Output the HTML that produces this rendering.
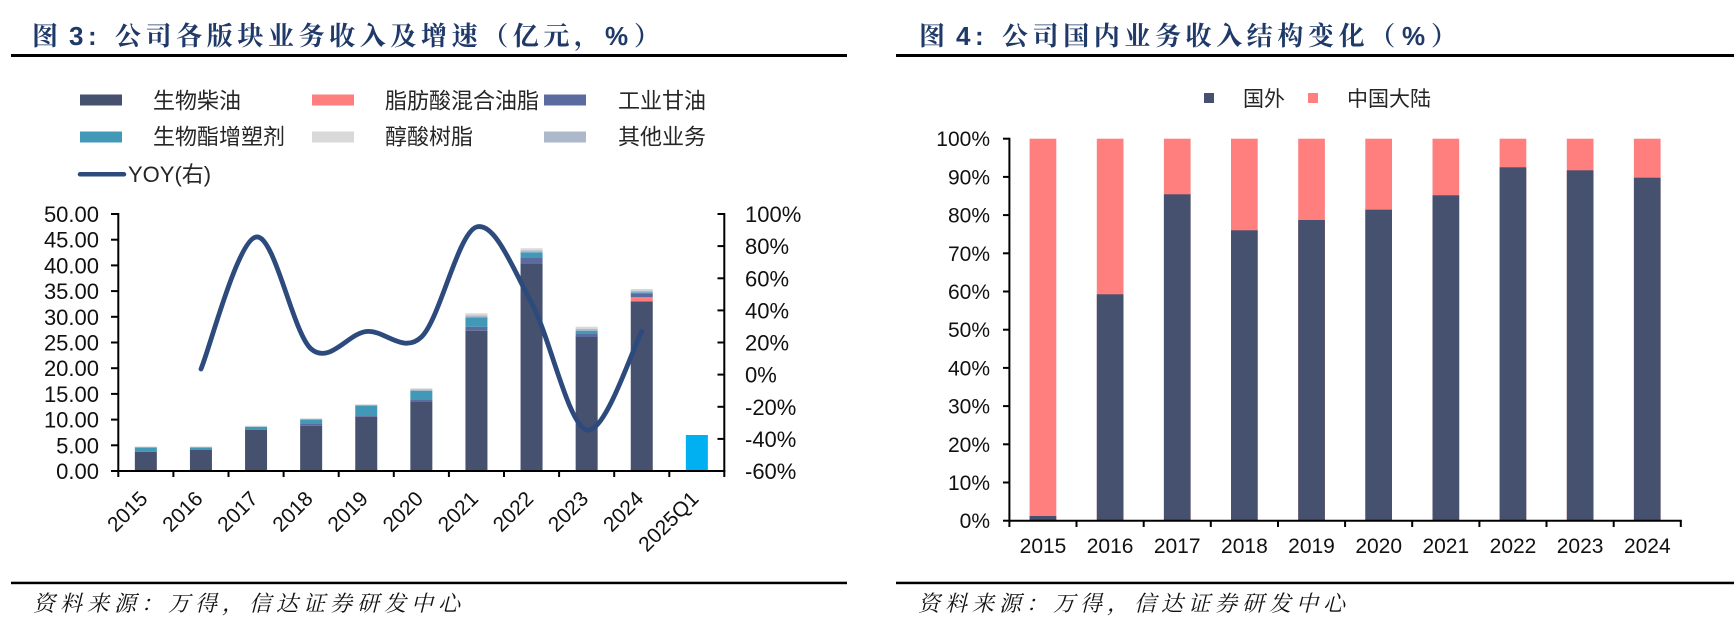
<!DOCTYPE html>
<html><head><meta charset="utf-8"><style>
html,body{margin:0;padding:0;background:#fff;}
svg{display:block;}
.t{font-family:"Noto Serif CJK SC","Liberation Serif",serif;font-weight:700;fill:#1F3A68;font-size:26px;}
.tp{font-family:"Liberation Sans",sans-serif;font-weight:700;fill:#1F3A68;font-size:26px;}
.lg{font-family:"Liberation Sans","Noto Sans CJK SC",sans-serif;font-size:22px;fill:#262626;}
.ax{font-family:"Liberation Sans","Noto Sans CJK SC",sans-serif;font-size:22px;fill:#111;}
.ax2{font-family:"Liberation Sans","Noto Sans CJK SC",sans-serif;font-size:21px;fill:#111;}
.ft{font-family:"Noto Serif CJK SC","Liberation Serif",serif;font-style:italic;font-size:22px;fill:#111;letter-spacing:5px;}
</style></head><body>
<svg width="1734" height="626" viewBox="0 0 1734 626" xmlns="http://www.w3.org/2000/svg">
<rect width="1734" height="626" fill="#fff"/>

<!-- ===== LEFT TITLE ===== -->
<text class="t" x="32" y="45">图</text>
<text class="tp" x="69" y="45">3</text>
<text class="tp" x="88" y="45">:</text>
<text class="t" x="115" y="45" style="letter-spacing:4.6px">公司各版块业务收入及增速（亿元，</text>
<text class="tp" x="605" y="45">%</text>
<text class="t" x="634" y="45">）</text>
<rect x="11" y="54" width="836" height="3" fill="#000"/>

<!-- ===== RIGHT TITLE ===== -->
<text class="t" x="919" y="45">图</text>
<text class="tp" x="956" y="45">4</text>
<text class="tp" x="975" y="45">:</text>
<text class="t" x="1002" y="45" style="letter-spacing:4.6px">公司国内业务收入结构变化（</text>
<text class="tp" x="1402" y="45">%</text>
<text class="t" x="1431" y="45">）</text>
<rect x="896" y="54" width="838" height="3" fill="#000"/>

<!-- ===== LEFT LEGEND ===== -->
<rect x="80" y="94.5" width="42" height="11" fill="#46516F"/>
<text class="lg" x="153" y="108.5">生物柴油</text>
<rect x="312" y="94.5" width="42" height="11" fill="#FF7F7F"/>
<text class="lg" x="385" y="108.5">脂肪酸混合油脂</text>
<rect x="544" y="94.5" width="42" height="11" fill="#5B6BA0"/>
<text class="lg" x="618" y="108.5">工业甘油</text>
<rect x="80" y="131.5" width="42" height="11" fill="#4299B7"/>
<text class="lg" x="153" y="144.5">生物酯增塑剂</text>
<rect x="312" y="131.5" width="42" height="11" fill="#D9D9D9"/>
<text class="lg" x="385" y="144.5">醇酸树脂</text>
<rect x="544" y="131.5" width="42" height="11" fill="#ADB9CA"/>
<text class="lg" x="618" y="144.5">其他业务</text>
<line x1="80" y1="174.3" x2="124" y2="174.3" stroke="#2C4A7C" stroke-width="4.5" stroke-linecap="round"/>
<text class="lg" x="128" y="182">YOY(右)</text>

<!-- ===== LEFT BARS ===== -->
<g>
<rect x="134.85" y="451.7" width="22" height="19.3" fill="#46516F"/>
<rect x="134.85" y="447.3" width="22" height="4.4" fill="#4299B7"/>
<rect x="134.85" y="446.5" width="22" height="0.8" fill="#D9D9D9"/>
<rect x="189.95" y="450" width="22" height="21" fill="#46516F"/>
<rect x="189.95" y="447.3" width="22" height="2.7" fill="#4299B7"/>
<rect x="189.95" y="446.5" width="22" height="0.8" fill="#D9D9D9"/>
<rect x="245.05" y="430" width="22" height="41" fill="#46516F"/>
<rect x="245.05" y="429.3" width="22" height="0.7" fill="#5B6BA0"/>
<rect x="245.05" y="426.7" width="22" height="2.6" fill="#4299B7"/>
<rect x="245.05" y="425.7" width="22" height="1" fill="#D9D9D9"/>
<rect x="300.15" y="425.7" width="22" height="45.3" fill="#46516F"/>
<rect x="300.15" y="424" width="22" height="1.7" fill="#5B6BA0"/>
<rect x="300.15" y="419.3" width="22" height="4.7" fill="#4299B7"/>
<rect x="300.15" y="418.3" width="22" height="1" fill="#D9D9D9"/>
<rect x="355.25" y="416.7" width="22" height="54.3" fill="#46516F"/>
<rect x="355.25" y="416" width="22" height="0.7" fill="#5B6BA0"/>
<rect x="355.25" y="405.3" width="22" height="10.7" fill="#4299B7"/>
<rect x="355.25" y="404.3" width="22" height="1" fill="#D9D9D9"/>
<rect x="410.35" y="402" width="22" height="69" fill="#46516F"/>
<rect x="410.35" y="400" width="22" height="2" fill="#5B6BA0"/>
<rect x="410.35" y="390.7" width="22" height="9.3" fill="#4299B7"/>
<rect x="410.35" y="389.5" width="22" height="1.2" fill="#ADB9CA"/>
<rect x="410.35" y="388.3" width="22" height="1.2" fill="#D9D9D9"/>
<rect x="465.45" y="330.7" width="22" height="140.3" fill="#46516F"/>
<rect x="465.45" y="326.7" width="22" height="4" fill="#5B6BA0"/>
<rect x="465.45" y="317.3" width="22" height="9.4" fill="#4299B7"/>
<rect x="465.45" y="315.3" width="22" height="2" fill="#ADB9CA"/>
<rect x="465.45" y="313.3" width="22" height="2" fill="#D9D9D9"/>
<rect x="520.55" y="264" width="22" height="207" fill="#46516F"/>
<rect x="520.55" y="258" width="22" height="6" fill="#5B6BA0"/>
<rect x="520.55" y="252.3" width="22" height="5.7" fill="#4299B7"/>
<rect x="520.55" y="250.3" width="22" height="2" fill="#ADB9CA"/>
<rect x="520.55" y="248.3" width="22" height="2" fill="#D9D9D9"/>
<rect x="575.65" y="337" width="22" height="134" fill="#46516F"/>
<rect x="575.65" y="333.3" width="22" height="3.7" fill="#5B6BA0"/>
<rect x="575.65" y="330.7" width="22" height="2.6" fill="#4299B7"/>
<rect x="575.65" y="328.7" width="22" height="2" fill="#ADB9CA"/>
<rect x="575.65" y="326.7" width="22" height="2" fill="#D9D9D9"/>
<rect x="630.75" y="301.3" width="22" height="169.7" fill="#46516F"/>
<rect x="630.75" y="297.3" width="22" height="4" fill="#FF7F7F"/>
<rect x="630.75" y="294" width="22" height="3.3" fill="#5B6BA0"/>
<rect x="630.75" y="292.3" width="22" height="1.7" fill="#4299B7"/>
<rect x="630.75" y="290.6" width="22" height="1.7" fill="#ADB9CA"/>
<rect x="630.75" y="289" width="22" height="1.6" fill="#D9D9D9"/>
<rect x="685.85" y="435" width="22" height="36" fill="#00B0F0"/>
</g>

<!-- YOY line -->
<path d="M201,369 C210.2,347 237.7,240.3 256.1,237 C274.5,233.7 292.8,333.25 311.2,349 C329.6,364.75 347.9,333.5 366.3,331.5 C384.7,329.5 403.0,354.42 421.4,337 C439.8,319.58 458.1,232.67 476.5,227 C494.9,221.33 513.2,269.17 531.6,303 C549.9,336.83 568.3,425.25 586.7,430 C605.1,434.75 632.6,347.9 641.8,331.5" fill="none" stroke="#2C4A7C" stroke-width="4.8" stroke-linecap="round" stroke-linejoin="round"/>

<!-- LEFT AXES -->
<g stroke="#000" stroke-width="2">
<line x1="118.3" y1="213" x2="118.3" y2="477"/>
<line x1="724.3" y1="213" x2="724.3" y2="477"/>
<line x1="117.3" y1="471" x2="725.3" y2="471"/>
<line x1="111" y1="471" x2="118.3" y2="471"/>
<line x1="111" y1="445.3" x2="118.3" y2="445.3"/>
<line x1="111" y1="419.6" x2="118.3" y2="419.6"/>
<line x1="111" y1="393.9" x2="118.3" y2="393.9"/>
<line x1="111" y1="368.2" x2="118.3" y2="368.2"/>
<line x1="111" y1="342.5" x2="118.3" y2="342.5"/>
<line x1="111" y1="316.8" x2="118.3" y2="316.8"/>
<line x1="111" y1="291.1" x2="118.3" y2="291.1"/>
<line x1="111" y1="265.4" x2="118.3" y2="265.4"/>
<line x1="111" y1="239.7" x2="118.3" y2="239.7"/>
<line x1="111" y1="214" x2="118.3" y2="214"/>
<line x1="717.5" y1="214" x2="724.3" y2="214"/>
<line x1="717.5" y1="246.1" x2="724.3" y2="246.1"/>
<line x1="717.5" y1="278.3" x2="724.3" y2="278.3"/>
<line x1="717.5" y1="310.4" x2="724.3" y2="310.4"/>
<line x1="717.5" y1="342.5" x2="724.3" y2="342.5"/>
<line x1="717.5" y1="374.6" x2="724.3" y2="374.6"/>
<line x1="717.5" y1="406.8" x2="724.3" y2="406.8"/>
<line x1="717.5" y1="438.9" x2="724.3" y2="438.9"/>
<line x1="173.4" y1="471" x2="173.4" y2="477"/>
<line x1="228.5" y1="471" x2="228.5" y2="477"/>
<line x1="283.6" y1="471" x2="283.6" y2="477"/>
<line x1="338.7" y1="471" x2="338.7" y2="477"/>
<line x1="393.8" y1="471" x2="393.8" y2="477"/>
<line x1="448.9" y1="471" x2="448.9" y2="477"/>
<line x1="504" y1="471" x2="504" y2="477"/>
<line x1="559.1" y1="471" x2="559.1" y2="477"/>
<line x1="614.2" y1="471" x2="614.2" y2="477"/>
<line x1="669.3" y1="471" x2="669.3" y2="477"/>
</g>

<g class="ax" text-anchor="end">
<text x="99" y="479">0.00</text>
<text x="99" y="453.3">5.00</text>
<text x="99" y="427.6">10.00</text>
<text x="99" y="401.9">15.00</text>
<text x="99" y="376.2">20.00</text>
<text x="99" y="350.5">25.00</text>
<text x="99" y="324.8">30.00</text>
<text x="99" y="299.1">35.00</text>
<text x="99" y="273.4">40.00</text>
<text x="99" y="247.7">45.00</text>
<text x="99" y="222">50.00</text>
</g>
<g class="ax">
<text x="745" y="222">100%</text>
<text x="745" y="254.1">80%</text>
<text x="745" y="286.3">60%</text>
<text x="745" y="318.4">40%</text>
<text x="745" y="350.5">20%</text>
<text x="745" y="382.6">0%</text>
<text x="745" y="414.8">-20%</text>
<text x="745" y="446.9">-40%</text>
<text x="745" y="479">-60%</text>
</g>
<g class="ax2" text-anchor="end">
<text x="148.9" y="500" transform="rotate(-45 148.9 500)">2015</text>
<text x="204" y="500" transform="rotate(-45 204 500)">2016</text>
<text x="259.1" y="500" transform="rotate(-45 259.1 500)">2017</text>
<text x="314.2" y="500" transform="rotate(-45 314.2 500)">2018</text>
<text x="369.3" y="500" transform="rotate(-45 369.3 500)">2019</text>
<text x="424.4" y="500" transform="rotate(-45 424.4 500)">2020</text>
<text x="479.5" y="500" transform="rotate(-45 479.5 500)">2021</text>
<text x="534.6" y="500" transform="rotate(-45 534.6 500)">2022</text>
<text x="589.7" y="500" transform="rotate(-45 589.7 500)">2023</text>
<text x="644.8" y="500" transform="rotate(-45 644.8 500)">2024</text>
<text x="699.9" y="500" transform="rotate(-45 699.9 500)">2025Q1</text>
</g>

<!-- ===== RIGHT LEGEND ===== -->
<rect x="1204" y="93" width="10" height="10" fill="#46516F"/>
<text class="lg" x="1243" y="106" style="font-size:21px">国外</text>
<rect x="1308" y="93" width="10" height="10" fill="#FF7F7F"/>
<text class="lg" x="1347" y="106" style="font-size:21px">中国大陆</text>

<!-- ===== RIGHT BARS ===== -->
<g>
<rect x="1029.6" y="138.7" width="26.7" height="382" fill="#FF7F7F"/>
<rect x="1029.6" y="516" width="26.7" height="4.7" fill="#46516F"/>
<rect x="1096.8" y="138.7" width="26.7" height="382" fill="#FF7F7F"/>
<rect x="1096.8" y="294.3" width="26.7" height="226.4" fill="#46516F"/>
<rect x="1163.9" y="138.7" width="26.7" height="382" fill="#FF7F7F"/>
<rect x="1163.9" y="194.3" width="26.7" height="326.4" fill="#46516F"/>
<rect x="1231.0" y="138.7" width="26.7" height="382" fill="#FF7F7F"/>
<rect x="1231.0" y="230.3" width="26.7" height="290.4" fill="#46516F"/>
<rect x="1298.2" y="138.7" width="26.7" height="382" fill="#FF7F7F"/>
<rect x="1298.2" y="220" width="26.7" height="300.7" fill="#46516F"/>
<rect x="1365.3" y="138.7" width="26.7" height="382" fill="#FF7F7F"/>
<rect x="1365.3" y="209.7" width="26.7" height="311" fill="#46516F"/>
<rect x="1432.5" y="138.7" width="26.7" height="382" fill="#FF7F7F"/>
<rect x="1432.5" y="195.3" width="26.7" height="325.4" fill="#46516F"/>
<rect x="1499.6" y="138.7" width="26.7" height="382" fill="#FF7F7F"/>
<rect x="1499.6" y="167.3" width="26.7" height="353.4" fill="#46516F"/>
<rect x="1566.8" y="138.7" width="26.7" height="382" fill="#FF7F7F"/>
<rect x="1566.8" y="170.3" width="26.7" height="350.4" fill="#46516F"/>
<rect x="1633.9" y="138.7" width="26.7" height="382" fill="#FF7F7F"/>
<rect x="1633.9" y="177.7" width="26.7" height="343" fill="#46516F"/>
</g>

<!-- RIGHT AXES -->
<g stroke="#000" stroke-width="2">
<line x1="1009.4" y1="137.7" x2="1009.4" y2="527"/>
<line x1="1008.4" y1="520.7" x2="1681.8" y2="520.7"/>
<line x1="1003" y1="138.7" x2="1009.4" y2="138.7"/>
<line x1="1003" y1="176.9" x2="1009.4" y2="176.9"/>
<line x1="1003" y1="215.1" x2="1009.4" y2="215.1"/>
<line x1="1003" y1="253.3" x2="1009.4" y2="253.3"/>
<line x1="1003" y1="291.5" x2="1009.4" y2="291.5"/>
<line x1="1003" y1="329.7" x2="1009.4" y2="329.7"/>
<line x1="1003" y1="367.9" x2="1009.4" y2="367.9"/>
<line x1="1003" y1="406.1" x2="1009.4" y2="406.1"/>
<line x1="1003" y1="444.3" x2="1009.4" y2="444.3"/>
<line x1="1003" y1="482.5" x2="1009.4" y2="482.5"/>
<line x1="1003" y1="520.7" x2="1009.4" y2="520.7"/>
<line x1="1076.5" y1="520.7" x2="1076.5" y2="527"/>
<line x1="1143.7" y1="520.7" x2="1143.7" y2="527"/>
<line x1="1210.8" y1="520.7" x2="1210.8" y2="527"/>
<line x1="1278" y1="520.7" x2="1278" y2="527"/>
<line x1="1345.1" y1="520.7" x2="1345.1" y2="527"/>
<line x1="1412.2" y1="520.7" x2="1412.2" y2="527"/>
<line x1="1479.4" y1="520.7" x2="1479.4" y2="527"/>
<line x1="1546.5" y1="520.7" x2="1546.5" y2="527"/>
<line x1="1613.7" y1="520.7" x2="1613.7" y2="527"/>
<line x1="1680.8" y1="520.7" x2="1680.8" y2="527"/>
</g>
<g class="ax2" text-anchor="end">
<text x="990" y="146.2">100%</text>
<text x="990" y="184.4">90%</text>
<text x="990" y="222.6">80%</text>
<text x="990" y="260.8">70%</text>
<text x="990" y="299">60%</text>
<text x="990" y="337.2">50%</text>
<text x="990" y="375.4">40%</text>
<text x="990" y="413.6">30%</text>
<text x="990" y="451.8">20%</text>
<text x="990" y="490">10%</text>
<text x="990" y="528.2">0%</text>
</g>
<g class="ax2" text-anchor="middle">
<text x="1043" y="553">2015</text>
<text x="1110.1" y="553">2016</text>
<text x="1177.2" y="553">2017</text>
<text x="1244.4" y="553">2018</text>
<text x="1311.5" y="553">2019</text>
<text x="1378.7" y="553">2020</text>
<text x="1445.8" y="553">2021</text>
<text x="1513" y="553">2022</text>
<text x="1580.1" y="553">2023</text>
<text x="1647.3" y="553">2024</text>
</g>

<!-- ===== FOOTERS ===== -->
<rect x="11" y="581.7" width="836" height="2.5" fill="#000"/>
<text class="ft" x="33" y="611">资料来源：万得，信达证券研发中心</text>
<rect x="896" y="581.7" width="838" height="2.5" fill="#000"/>
<text class="ft" x="918" y="611">资料来源：万得，信达证券研发中心</text>
</svg>
</body></html>
